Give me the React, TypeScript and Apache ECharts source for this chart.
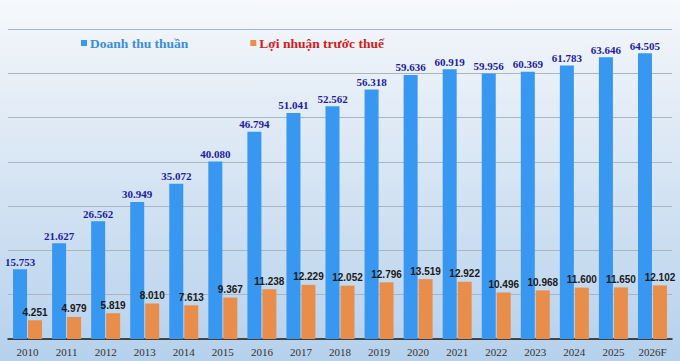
import React, { useEffect, useRef } from "react";
import * as echarts from "echarts";

const years = ["2010", "2011", "2012", "2013", "2014", "2015", "2016", "2017", "2018", "2019", "2020", "2021", "2022", "2023", "2024", "2025", "2026F"];
const revenue = [15.753, 21.627, 26.562, 30.949, 35.072, 40.08, 46.794, 51.041, 52.562, 56.318, 59.636, 60.919, 59.956, 60.369, 61.783, 63.646, 64.505];
const profit = [4.251, 4.979, 5.819, 8.01, 7.613, 9.367, 11.238, 12.229, 12.052, 12.796, 13.519, 12.922, 10.496, 10.968, 11.6, 11.65, 12.102];

const fmt = (v: number) => v.toFixed(3);

export default function App() {
  const ref = useRef<HTMLDivElement>(null);

  useEffect(() => {
    document.body.style.margin = "0";
    if (!ref.current) return;
    const chart = echarts.init(ref.current, undefined, { renderer: "svg" });
    chart.setOption({
      animation: false,
      backgroundColor: new echarts.graphic.LinearGradient(0, 0, 0, 1, [
        { offset: 0, color: "#f7f9fc" },
        { offset: 0.12, color: "#eef3f9" },
        { offset: 1, color: "#b6d1ec" },
      ]),
      legend: {
        left: 76,
        top: 31,
        itemWidth: 6,
        itemHeight: 6,
        itemGap: 62,
        icon: "rect",
        data: [
          { name: "Doanh thu thuần", textStyle: { color: "#3b8ee0" } },
          { name: "Lợi nhuận trước thuế", textStyle: { color: "#d41a1a" } },
        ],
        textStyle: {
          fontFamily: "Liberation Serif, Times New Roman, serif",
          fontWeight: "bold",
          fontSize: 13.5,
          padding: [0, 0, 0, -2],
        },
      },
      grid: { left: 8, right: 8, top: 29, bottom: 22, containLabel: false },
      xAxis: {
        type: "category",
        data: years,
        axisLine: { lineStyle: { color: "#1a1a1a", width: 1.5 } },
        axisTick: { show: false },
        axisLabel: {
          color: "#333",
          fontFamily: "Liberation Serif, Times New Roman, serif",
          fontSize: 11,
          margin: 7,
        },
      },
      yAxis: {
        type: "value",
        min: 0,
        max: 70,
        interval: 10,
        axisLabel: { show: false },
        axisLine: { show: false },
        axisTick: { show: false },
        splitLine: { lineStyle: { color: "#a9b5c1", width: 1 } },
      },
      series: [
        {
          name: "Doanh thu thuần",
          type: "bar",
          data: revenue,
          barWidth: 14,
          barGap: "7%",
          itemStyle: { color: "#3897f0" },
          label: {
            show: true,
            position: "top",
            distance: 2,
            formatter: (p: any) => fmt(p.value),
            color: "#1c1ca6",
            fontFamily: "Liberation Serif, Times New Roman, serif",
            fontWeight: "bold",
            fontSize: 11,
          },
        },
        {
          name: "Lợi nhuận trước thuế",
          type: "bar",
          data: profit,
          barWidth: 14,
          itemStyle: { color: "#e98d4b" },
          label: {
            show: true,
            position: "top",
            distance: 3,
            formatter: (p: any) => fmt(p.value),
            color: "#1a1a1a",
            fontFamily: "Liberation Sans, Arial, sans-serif",
            fontWeight: "bold",
            fontSize: 10,
          },
        },
      ],
    });
    return () => chart.dispose();
  }, []);

  return <div ref={ref} style={{ width: 680, height: 361 }} />;
}
